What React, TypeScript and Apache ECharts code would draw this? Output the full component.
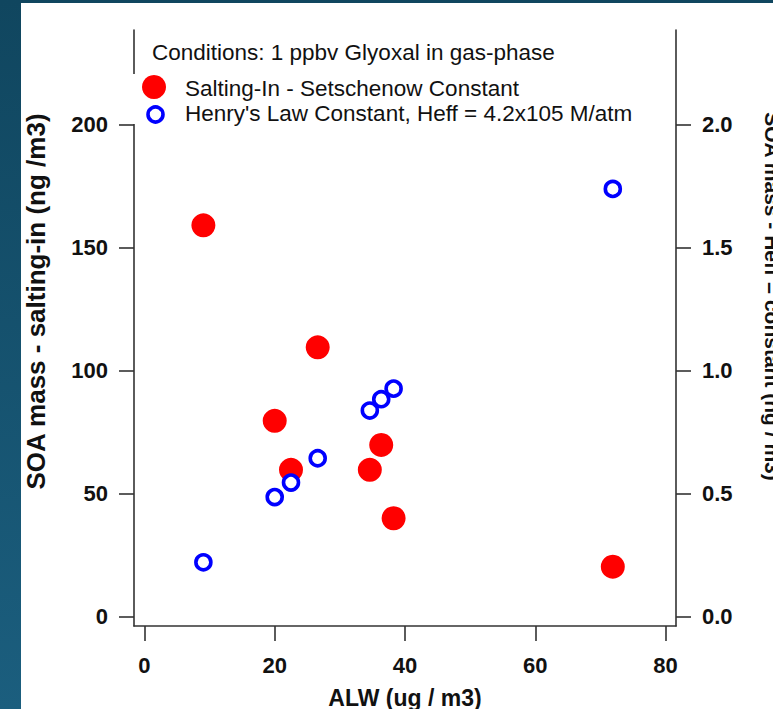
import React, { useEffect, useRef } from "react";
import * as echarts from "echarts";

// ALW (ug / m3) shared by both series
const alw = [9.05, 20.0, 22.5, 26.6, 34.6, 36.35, 38.25, 71.9];
// SOA mass - salting-in (ng /m3), left axis
const saltingIn = [159.2, 79.7, 59.8, 109.6, 59.8, 69.9, 40.1, 20.4];
// SOA mass - Heff constant (ng / m3), right axis
const henrysLaw = [0.222, 0.487, 0.546, 0.645, 0.839, 0.885, 0.928, 1.74];

const xTicks = [0, 20, 40, 60, 80];
const leftTicks = [0, 50, 100, 150, 200];
const rightTicks = [0, 0.5, 1.0, 1.5, 2.0];

const seriesNames = [
  "Salting-In - Setschenow Constant",
  "Henry's Law Constant, Heff = 4.2x105 M/atm",
];
const noteText = "Conditions: 1 ppbv Glyoxal in gas-phase";
const xTitle = "ALW (ug / m3)";
const leftTitle = "SOA mass - salting-in (ng /m3)";
const rightTitle = "SOA mass - Heff = constant (ng / m3)";

const FONT = "'Liberation Sans', Arial, sans-serif";
const AXIS_COLOR = "#333";

export default function App() {
  const ref = useRef<HTMLDivElement>(null);

  useEffect(() => {
    if (!ref.current) return;
    const chart = echarts.init(ref.current, undefined, { renderer: "svg" });

    const axisCommon = {
      axisLine: { show: true, onZero: false, lineStyle: { color: AXIS_COLOR, width: 1.6 } },
      axisTick: { show: true, length: 15, lineStyle: { color: AXIS_COLOR, width: 1.6 } },
      splitLine: { show: false },
    };
    const labelCommon = {
      color: "#111",
      fontFamily: FONT,
      fontWeight: "bold" as const,
      fontSize: 22,
    };
    const legendText = {
      fontFamily: FONT,
      fontSize: 22.5,
      fill: "#111",
      textVerticalAlign: "middle",
      textAlign: "left",
    };

    chart.setOption({
      animation: false,
      backgroundColor: "transparent",
      grid: { left: 134, right: 97, top: 30, bottom: 83, containLabel: false },
      xAxis: {
        type: "value",
        min: -1.6,
        max: 81.6,
        ...axisCommon,
        axisTick: { ...axisCommon.axisTick, customValues: xTicks },
        axisLabel: { ...labelCommon, margin: 28, customValues: xTicks },
      },
      yAxis: [
        {
          type: "value",
          position: "left",
          min: -3.7,
          max: 238.6,
          ...axisCommon,
          axisTick: { ...axisCommon.axisTick, customValues: leftTicks },
          axisLabel: { ...labelCommon, margin: 26, customValues: leftTicks },
        },
        {
          type: "value",
          position: "right",
          min: -0.037,
          max: 2.386,
          ...axisCommon,
          axisTick: { ...axisCommon.axisTick, customValues: rightTicks },
          axisLabel: {
            ...labelCommon,
            margin: 26,
            customValues: rightTicks,
            formatter: (v: number) => v.toFixed(1),
          },
        },
      ],
      series: [
        {
          name: seriesNames[0],
          type: "scatter",
          yAxisIndex: 0,
          symbol: "circle",
          symbolSize: 24,
          itemStyle: { color: "#ff0000", opacity: 1 },
          data: alw.map((x, i) => [x, saltingIn[i]]),
          z: 2,
        },
        {
          name: seriesNames[1],
          type: "scatter",
          yAxisIndex: 1,
          symbol: "circle",
          symbolSize: 15,
          itemStyle: { color: "#ffffff", borderColor: "#0000ff", borderWidth: 3.6, opacity: 1 },
          data: alw.map((x, i) => [x, henrysLaw[i]]),
          z: 3,
        },
      ],
      graphic: [
        // gap in the left axis behind the legend
        { type: "rect", z: 100, shape: { x: 127, y: 74, width: 12, height: 50 }, style: { fill: "#ffffff" } },
        { type: "text", z: 101, x: 152, y: 52, style: { ...legendText, text: noteText } },
        { type: "circle", z: 101, shape: { cx: 154, cy: 87, r: 12 }, style: { fill: "#ff0000" } },
        { type: "text", z: 101, x: 185, y: 88, style: { ...legendText, text: seriesNames[0] } },
        {
          type: "circle", z: 101, shape: { cx: 155.5, cy: 114.5, r: 7.5 },
          style: { fill: "#ffffff", stroke: "#0000ff", lineWidth: 3.6 },
        },
        { type: "text", z: 101, x: 185, y: 113, style: { ...legendText, text: seriesNames[1] } },
        {
          type: "text", z: 101, x: 405, y: 698,
          style: { text: xTitle, fontFamily: FONT, fontSize: 23, fontWeight: "bold", fill: "#111", textVerticalAlign: "middle", textAlign: "center" },
        },
        {
          type: "text", z: 101, x: 36, y: 301.5, rotation: Math.PI / 2,
          style: { text: leftTitle, fontFamily: FONT, fontSize: 26, fontWeight: "bold", fill: "#111", textVerticalAlign: "middle", textAlign: "center" },
        },
        {
          type: "text", z: 101, x: 772, y: 296.5, rotation: -Math.PI / 2,
          style: { text: rightTitle, fontFamily: FONT, fontSize: 21, fontWeight: "bold", fill: "#111", textVerticalAlign: "middle", textAlign: "center" },
        },
      ],
    });

    return () => chart.dispose();
  }, []);

  return (
    <div
      style={{
        position: "fixed",
        left: 0,
        top: 0,
        width: 773,
        height: 709,
        background: "linear-gradient(to bottom, #10465f, #1b5e7e)",
        overflow: "hidden",
      }}
    >
      <div
        style={{
          position: "absolute",
          left: 21,
          top: 3,
          width: 752,
          height: 706,
          background: "#ffffff",
        }}
      />
      <div ref={ref} style={{ position: "absolute", left: 0, top: 0, width: 773, height: 709 }} />
    </div>
  );
}
